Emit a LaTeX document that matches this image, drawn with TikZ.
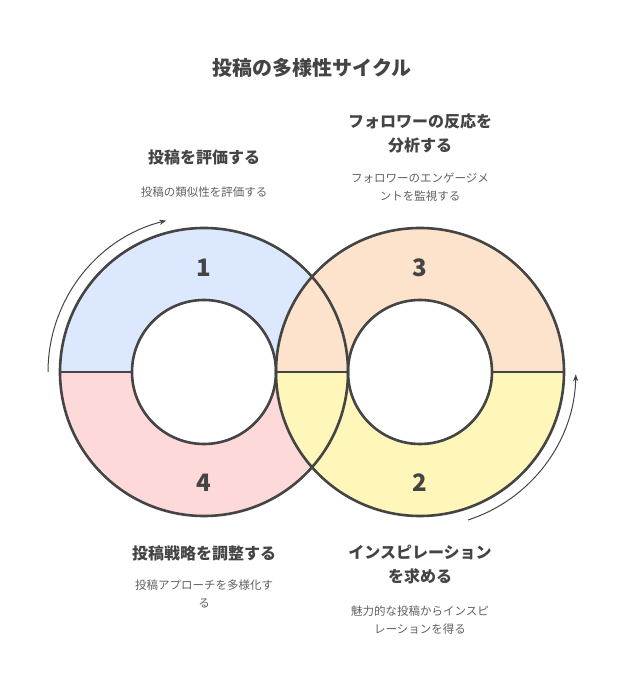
\documentclass[tikz,border=0pt]{standalone}
\usepackage{fontspec}
\setmainfont{Noto Sans CJK JP}
\usetikzlibrary{arrows.meta}
\definecolor{ink}{HTML}{444444}
\definecolor{cblue}{HTML}{DBE8FD}
\definecolor{cpink}{HTML}{FDD9D9}
\definecolor{cpeach}{HTML}{FDE2CC}
\definecolor{cyell}{HTML}{FEF7B9}
\newcommand{\halfring}[5]{% center x, center y, start angle, fill, name
  \fill[#4] (#1,#2) ++(#3:144) arc[start angle=#3,end angle=#3+180,radius=144]
    -- ++(#3:72) arc[start angle=#3+180,end angle=#3,radius=72] -- cycle;}
\tikzset{
  ring/.style={draw=ink, line width=2.6pt},
  num/.style={text=ink, font=\fontsize{24}{26}\selectfont\bfseries},
  head/.style={text=ink, align=center, font=\fontsize{16}{24}\selectfont\bfseries},
  desc/.style={text=ink!85, align=center, font=\fontsize{11.5}{18}\selectfont},
  flow/.style={draw=ink, line width=1pt, -{Stealth[length=7pt]}}
}
\begin{document}
\begin{tikzpicture}[x=1pt,y=1pt]
  \useasboundingbox (0,0) rectangle (624,684);
  % ring fills
  \halfring{204}{312}{0}{cblue}{q1}
  \halfring{204}{312}{180}{cpink}{q4}
  \halfring{420}{312}{0}{cpeach}{q3}
  \halfring{420}{312}{180}{cyell}{q2}
  % outlines
  \foreach \cx in {204,420} {
    \draw[ring] (\cx,312) circle[radius=144];
    \draw[ring] (\cx,312) circle[radius=72];
    \draw[ring] (\cx-144,312) -- (\cx-72,312);
    \draw[ring] (\cx+72,312) -- (\cx+144,312);
  }
  % numbers
  \node[num] (n1) at (204,416) {1};
  \node[num] (n3) at (420,416) {3};
  \node[num] (n2) at (420,201) {2};
  \node[num] (n4) at (204,201) {4};
  % flow arrows
  \draw[flow] (48,312) arc[start angle=180,end angle=104,radius=156];
  \draw[flow] (468,164) arc[start angle=-72,end angle=-1,radius=156];
  % texts
  \node[head, font=\fontsize{20}{24}\selectfont\bfseries] (title) at (312,616) {投稿の多様性サイクル};
  \node[head] (h1) at (204,527) {投稿を評価する};
  \node[desc] (d1) at (204,492) {投稿の類似性を評価する};
  \node[head] (h3) at (420,551) {フォロワーの反応を\\分析する};
  \node[desc] (d3) at (420,497) {フォロワーのエンゲージメ\\ントを監視する};
  \node[head] (h4) at (204,131) {投稿戦略を調整する};
  \node[desc] (d4) at (204,90) {投稿アプローチを多様化す\\る};
  \node[head] (h2) at (420,119) {インスピレーション\\を求める};
  \node[desc] (d2) at (420,64) {魅力的な投稿からインスピ\\レーションを得る};
\end{tikzpicture}
\end{document}
